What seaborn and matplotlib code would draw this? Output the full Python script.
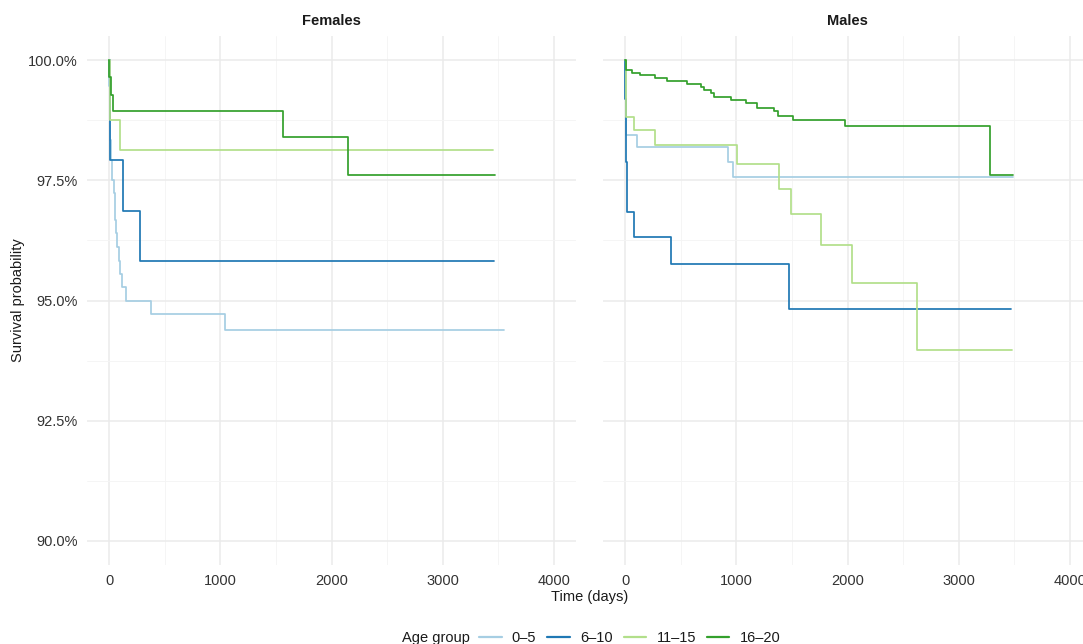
import numpy as np
import pandas as pd
import matplotlib
matplotlib.use("Agg")
import matplotlib.pyplot as plt
from matplotlib.lines import Line2D
from matplotlib.ticker import FixedLocator, MultipleLocator
import seaborn as sns

# ---------------- data ----------------
age_groups = ["0–5", "6–10", "11–15", "16–20"]
palette = ["#A6CEE3", "#1F78B4", "#B2DF8A", "#33A02C"]
sexes = ["Females", "Males"]

# Females
f_0_5_time = [0, 2, 5, 9, 13, 24, 39, 54, 63, 69, 84, 93, 114, 150, 375, 1040, 3550]
f_0_5_surv = [100, 99.45, 98.9, 98.33, 97.92, 97.5, 97.23, 96.67, 96.4, 96.11, 95.83,
              95.56, 95.28, 95.0, 94.72, 94.39, 94.39]
f_6_10_time = [0, 5, 123, 273, 3460]
f_6_10_surv = [100, 97.92, 96.87, 95.82, 95.82]
f_11_15_time = [0, 8, 100, 3455]
f_11_15_surv = [100, 98.75, 98.12, 98.12]
f_16_20_time = [0, 2, 18, 30, 1568, 2150, 3470]
f_16_20_surv = [100, 99.65, 99.28, 98.95, 98.40, 97.62, 97.62]

# Males
m_0_5_time = [0, 3, 10, 110, 925, 970, 3493]
m_0_5_surv = [100, 99.2, 98.45, 98.2, 97.88, 97.57, 97.57]
m_6_10_time = [0, 2, 5, 12, 80, 411, 1477, 3468]
m_6_10_surv = [100, 99.2, 97.88, 96.84, 96.32, 95.76, 94.82, 94.82]
m_11_15_time = [0, 3, 10, 80, 272, 1006, 1381, 1495, 1766, 2036, 2622, 3484]
m_11_15_surv = [100, 99.4, 98.82, 98.54, 98.23, 97.83, 97.31, 96.79, 96.16, 95.37, 93.97, 93.97]
m_16_20_time = [0, 5, 60, 135, 270, 375, 555, 681, 711, 771, 795, 951, 1087, 1186,
                1336, 1375, 1507, 1976, 3279, 3493]
m_16_20_surv = [100, 99.79, 99.74, 99.69, 99.63, 99.57, 99.51, 99.44, 99.375, 99.31,
                99.24, 99.17, 99.10, 99.01, 98.94, 98.84, 98.75, 98.63, 97.60, 97.60]

x_ticks = [0, 1000, 2000, 3000, 4000]
x_tick_labels = ["0", "1000", "2000", "3000", "4000"]
y_ticks = [90.0, 92.5, 95.0, 97.5, 100.0]
y_tick_labels = ["90.0%", "92.5%", "95.0%", "97.5%", "100.0%"]

series = {
    ("Females", "0–5"): (f_0_5_time, f_0_5_surv),
    ("Females", "6–10"): (f_6_10_time, f_6_10_surv),
    ("Females", "11–15"): (f_11_15_time, f_11_15_surv),
    ("Females", "16–20"): (f_16_20_time, f_16_20_surv),
    ("Males", "0–5"): (m_0_5_time, m_0_5_surv),
    ("Males", "6–10"): (m_6_10_time, m_6_10_surv),
    ("Males", "11–15"): (m_11_15_time, m_11_15_surv),
    ("Males", "16–20"): (m_16_20_time, m_16_20_surv),
}
rows = []
for (sex, age), (t, s) in series.items():
    for ti, si in zip(t, s):
        rows.append({"sex": sex, "age": age, "time": ti, "surv": si})
df = pd.DataFrame(rows)

# ---------------- styling ----------------
sns.set_theme(style="white")
plt.rcParams["font.family"] = ["Liberation Sans", "DejaVu Sans"]
FS = 10.5
TXT = "#1a1a1a"

W, H = 1083, 644
fig = plt.figure(figsize=(W / 100, H / 100), dpi=100)
fig.patch.set_facecolor("white")


def rect(l, r, t, b):
    return [l / W, 1 - b / H, (r - l) / W, (b - t) / H]


axes = [fig.add_axes(rect(87, 576, 36, 565)), fig.add_axes(rect(603, 1092, 36, 565))]

for ax, sex in zip(axes, sexes):
    sub = df[df["sex"] == sex]
    sns.lineplot(data=sub, x="time", y="surv", hue="age", hue_order=age_groups,
                 palette=palette, estimator=None, drawstyle="steps-post",
                 linewidth=1.25, legend=False, ax=ax)
    ax.set_xlim(-200, 4200)
    ax.set_ylim(89.5, 100.5)
    ax.xaxis.set_major_locator(FixedLocator(x_ticks))
    ax.set_xticklabels(x_tick_labels)
    ax.xaxis.set_minor_locator(MultipleLocator(500))
    ax.yaxis.set_major_locator(FixedLocator(y_ticks))
    ax.yaxis.set_minor_locator(MultipleLocator(1.25))
    ax.grid(which="major", color="#EBEBEB", linewidth=1.1)
    ax.grid(which="minor", color="#F4F4F4", linewidth=0.6)
    ax.set_axisbelow(True)
    for sp in ax.spines.values():
        sp.set_visible(False)
    ax.tick_params(which="both", length=0, pad=6.5, labelsize=FS, colors="#333333")
    ax.set_xlabel("")
    ax.set_ylabel("")
    ax.set_facecolor("white")
    ax.set_title(sex, fontsize=FS, fontweight="bold", color=TXT, pad=8)

axes[0].set_yticklabels(y_tick_labels)
axes[1].set_yticklabels([])

fig.text(18 / W, 1 - 300 / H, "Survival probability", rotation=90, ha="center",
         va="center", fontsize=FS, color=TXT)
fig.text(590 / W, 1 - 597 / H, "Time (days)", ha="center", va="center",
         fontsize=FS, color=TXT)

# legend at the bottom
fig.text(402 / W, 1 - 638 / H, "Age group", ha="left", va="center",
         fontsize=FS, color=TXT)
handles = [Line2D([0], [0], color=c, lw=1.6) for c in palette]
fig.legend(handles, age_groups, loc="center left", bbox_to_anchor=(479 / W, 1 - 638 / H),
           ncol=4, frameon=False, fontsize=FS, handlelength=1.55, handletextpad=0.7,
           columnspacing=0.75, borderpad=0, borderaxespad=0, labelcolor=TXT)

fig.savefig("out.png", dpi=100)
